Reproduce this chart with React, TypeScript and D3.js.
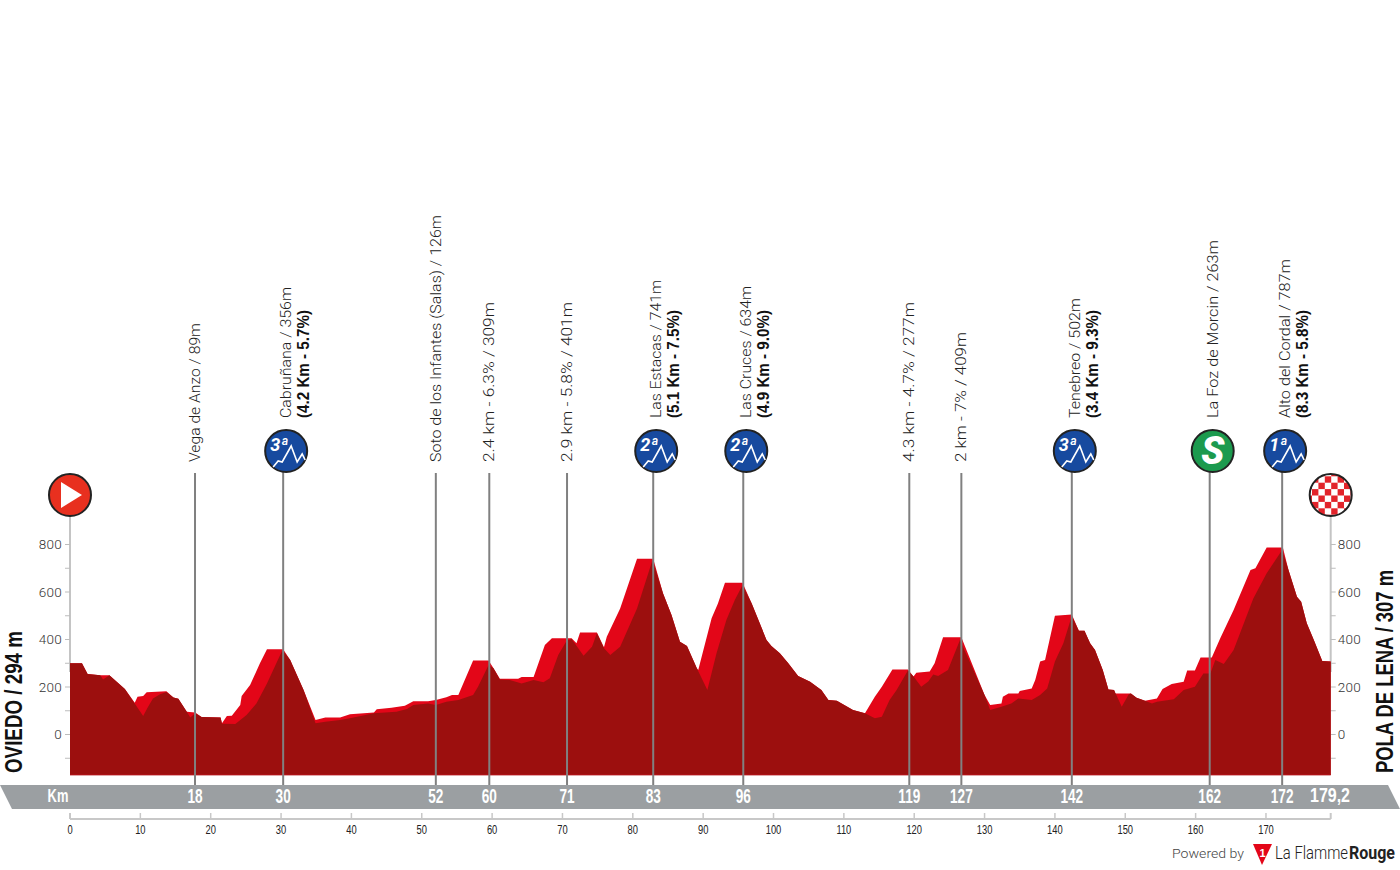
import React from "react";
import * as d3 from "d3";

const topKm = [0,1.7,2.5,4.3,5.6,7.8,9.2,9.6,10.4,10.9,13.7,14.7,15.4,16.6,17.8,18.7,21.4,21.6,22.3,23,24.2,24.4,25.6,27,28,30.3,31.3,33.2,34.9,36.3,38.4,39.8,43.2,43.6,45.7,47.6,48.8,50.9,52,53.5,54.3,55.2,57.3,59.5,60.2,61.1,63.7,64.2,65.9,67.5,68.5,71.3,72,72.5,74.9,75.9,76.3,78.2,80.6,82.9,84.3,85.5,86.7,87.7,89.1,89.3,91.2,92.1,93.1,95.6,96.9,99,99.7,100.9,102.1,103.5,105.2,106.8,107.8,109,111.3,113,114.4,115.4,116.9,119.1,119.9,120.3,122.2,122.9,124.1,126.7,130,130.8,132.4,132.6,133.4,134.8,135,136.7,137.2,137.9,138.6,140,142.4,143.4,144.2,145,145.7,146.8,147.6,148.4,148.6,150.8,151.6,152.8,154.5,155.3,156.6,158.3,158.8,159.9,160.7,162.3,163.5,165.4,167.8,168.5,170.1,172.4,173.2,174.4,175,175.8,176.8,178,179.2];
const topElev = [300,300,255,250,249,192,134,159,162,178,182,156,151,96,93,74,72,47,78,79,124,162,208,300,359,359,314,187,61,72,72,85,93,106,113,121,140,140,145,157,166,166,312,312,279,235,235,242,242,377,405,405,384,430,430,367,412,531,740,740,594,503,391,373,279,272,489,552,639,639,552,398,373,342,300,246,222,187,145,142,103,89,159,201,274,274,244,260,265,300,409,409,166,124,131,159,173,173,183,194,229,307,314,500,505,437,437,384,356,272,190,187,173,173,155,142,152,192,213,222,269,269,324,324,405,524,693,700,787,787,693,580,559,468,398,309,307];
const darkKm = [0,1.7,2.5,4.3,4.7,5.6,7.8,10.4,11.1,11.8,12.8,13.7,14.7,15.4,16.6,17.1,17.8,18.7,21.4,21.6,23.5,25.1,26.5,28,30.2,31.3,33.2,34.9,36.3,38.4,39.8,43.2,46.4,47.9,48.8,50.9,52,53.5,55.2,57.3,58,59.5,60.2,61.1,62.5,64.2,65.9,67.3,68.2,69.4,70.6,71.3,73,74.2,74.9,75.9,76.8,78.2,80.6,82.8,84.3,85.5,86.7,87.7,89.1,90.6,91.9,93.3,94.5,95.6,96.9,99,99.7,100.9,102.1,103.5,105.2,106.8,107.8,109,111.3,113,114.4,115.4,116.5,117.5,119.1,119.9,121,122,122.7,123.4,124.8,126.5,130,130.8,132.4,133.8,134.8,136.7,137.9,138.9,140,141.2,142.4,143.4,144.2,145,145.7,146.8,147.6,148.4,149.5,150.5,150.8,151.6,152.8,153.8,154.5,156.9,158.3,159.9,161.1,162.1,162.8,164,165.4,168.2,170.1,172.3,173.2,174.4,175,175.8,176.8,178,179.2];
const darkElev = [300,300,255,250,232,249,192,78,117,152,170,179,156,151,96,72,89,74,72,45,44,82,131,215,356,314,187,47,54,61,68,89,96,107,124,131,124,138,145,166,201,293,279,232,230,215,229,220,237,335,395,402,332,370,426,363,335,370,531,735,594,503,391,373,279,187,342,482,566,630,552,398,373,342,300,246,222,187,145,142,103,89,68,75,145,187,269,244,201,223,253,246,272,398,166,103,117,131,152,145,166,194,307,384,499,437,437,384,356,272,190,187,117,170,173,155,142,131,138,148,187,201,257,257,314,297,356,573,679,777,693,580,559,468,398,309,307];
const elevTicks = [800,600,400,200,0];
const elevMinorTicks = [700,500,300,100,-100];
const kmTicks = [0,10,20,30,40,50,60,70,80,90,100,110,120,130,140,150,160,170];

const passKm = [17.77,30.3,52,59.6,70.65,82.9,95.7,119.3,126.7,142.4,162,172.3];
const passKmLabels = ["18","30","52","60","71","83","96","119","127","142","162","172"];
const passNames = ["Vega de Anzo / 89m","Cabruñana / 356m","Soto de los Infantes (Salas) / 126m","2.4 km - 6.3% / 309m","2.9 km - 5.8% / 401m","Las Estacas / 741m","Las Cruces / 634m","4.3 km - 4.7% / 277m","2 km - 7% / 409m","Tenebreo / 502m","La Foz de Morcin / 263m","Alto del Cordal / 787m"];
const passDetails = ["","(4.2 Km - 5.7%)","","","","(5.1 Km - 7.5%)","(4.9 Km - 9.0%)","","","(3.4 Km - 9.3%)","",  "(8.3 Km - 5.8%)"];
const passBadges = ["","3ª","","","","2ª","2ª","","","3ª","S","1ª"];
const startName = "OVIEDO / 294 m";
const finishName = "POLA DE LENA / 307 m";
const totalLabel = "179,2";

const nameLengths = [139,131,247,160,160,138,132,160,130,120,178,159];

const light = "Roboto, 'Noto Sans', sans-serif";
const sans = "'Liberation Sans', sans-serif";

const x = d3.scaleLinear().domain([0, 179.2]).range([70, 1330.7]);
const y = d3.scaleLinear().domain([0, 800]).range([734.5, 544.5]);
const BASE = -170;

const mkArea = (kms: number[], elevs: number[]) =>
  d3.area<number>().x((_, i) => x(kms[i])).y0(y(BASE)).y1((_, i) => y(elevs[i])).curve(d3.curveLinear)(kms)!;

function Narrow({ x: tx, y: ty, size, fill, weight = 700, sx = 0.68, children, anchor = "middle" }: any) {
  return (
    <text transform={`translate(${tx},${ty}) scale(${sx},1)`} textAnchor={anchor} fontFamily={sans} fontWeight={weight} fontSize={size} fill={fill}>{children}</text>
  );
}

function Badge({ cx, cy, label }: { cx: number; cy: number; label: string }) {
  const sprint = label === "S";
  return (
    <g transform={`translate(${cx},${cy})`}>
      <circle r={21} fill={sprint ? "#1c9a4e" : "#174a9f"} stroke="#222" strokeWidth={2} />
      {sprint ? (
        <text x={0} y={13} textAnchor="middle" fontFamily={light} fontWeight={900} fontStyle="italic" fontSize={38} fill="#fff">S</text>
      ) : (
        <>
          <text x={-16} y={0} fontFamily={light} fontWeight={700} fontStyle="italic" fontSize={18} fill="#fff">{label}</text>
          <polyline points="-13,16 -8,10 -4,11 5,-5 11,11 16,3 19,9" fill="none" stroke="#fff" strokeWidth={1.6} />
        </>
      )}
    </g>
  );
}

function Checker({ cx, cy }: { cx: number; cy: number }) {
  const cells = d3.range(-4, 4).flatMap((r) => d3.range(-4, 4).filter((c) => (r + c + 8) % 2 === 0).map((c) => [r, c]));
  return (
    <g transform={`translate(${cx},${cy})`}>
      <clipPath id="chk"><circle r={21} /></clipPath>
      <circle r={21} fill="#fff" />
      <g clipPath="url(#chk)">
        {cells.map(([r, c], i) => (
          <rect key={i} x={c * 6.4 + 0.5} y={r * 6.4 + 0.5} width={6.4} height={6.4} fill="#e2232a" />
        ))}
      </g>
      <circle r={21} fill="none" stroke="#222" strokeWidth={2} />
    </g>
  );
}

export default function App() {
  return (
    <svg width={1400} height={870} style={{ position: "absolute", left: 0, top: 0, background: "#fff" }}>
      {/* y axes */}
      {[x(0), x(179.2)].map((ax, k) => (
        <g key={k}>
          <line x1={ax} x2={ax} y1={516} y2={672} stroke="#c4c4c4" strokeWidth={2} />
          {[...elevTicks, ...elevMinorTicks].map((t) => (
            <line key={t} x1={ax} x2={ax + (k ? 5 : -5)} y1={y(t)} y2={y(t)} stroke="#bdbdbd" strokeWidth={1} />
          ))}
          {elevTicks.map((t) => (
            <text key={t} x={k ? ax + 7 : ax - 8} y={y(t) + 4.5} textAnchor={k ? "start" : "end"} fontFamily={light} fontWeight={300} fontSize={13.5} letterSpacing={0.3} fill="#333">{t}</text>
          ))}
        </g>
      ))}

      <path d={mkArea(topKm, topElev)} fill="#e30618" />
      <path d={mkArea(darkKm, darkElev)} fill="#9c0f0e" />
      <line x1={x(0)} x2={x(179.2)} y1={y(BASE)} y2={y(BASE)} stroke="#b5141a" strokeWidth={1} />

      {/* km band */}
      <polygon points="0,785 1388,785 1400,809 12,809" fill="#9b9fa2" />
      <Narrow x={58} y={802} size={19} fill="#fff">Km</Narrow>

      {/* passes */}
      {passKm.map((km, i) => {
        const px = x(km);
        const hasBadge = passBadges[i] !== "";
        const top = hasBadge ? 460 : 473;
        const anchorY = hasBadge ? 418 : 462;
        const nameX = px + (hasBadge ? 8 : 5);
        return (
          <g key={i}>
            <line x1={px} x2={px} y1={top} y2={785} stroke="#808080" strokeWidth={2} />
            <Narrow x={px} y={803} size={20} fill="#fff">{passKmLabels[i]}</Narrow>
            <text transform={`translate(${nameX},${anchorY}) rotate(-90)`} fontFamily={light} fontWeight={300} fontSize={15} fill="#222"
              textLength={nameLengths[i]} lengthAdjust="spacingAndGlyphs">{passNames[i]}</text>
            {passDetails[i] && (
              <text transform={`translate(${px + 26},${anchorY}) rotate(-90)`} fontFamily={sans} fontWeight={700} fontSize={16} fill="#111"
                textLength={108} lengthAdjust="spacingAndGlyphs">{passDetails[i]}</text>
            )}
            {hasBadge && <Badge cx={px + 3} cy={451} label={passBadges[i]} />}
          </g>
        );
      })}
      <Narrow x={1330} y={802} size={20} sx={0.8} fill="#fff">{totalLabel}</Narrow>

      {/* km axis */}
      <line x1={x(0)} x2={x(179.2)} y1={819} y2={819} stroke="#c8c8c8" strokeWidth={2} />
      {kmTicks.map((t) => (
        <g key={t}>
          <line x1={x(t)} x2={x(t)} y1={813} y2={819} stroke="#c8c8c8" strokeWidth={t === 0 ? 2 : 1.5} />
          <Narrow x={x(t)} y={834} size={13} weight={400} sx={0.72} fill="#222">{t}</Narrow>
        </g>
      ))}
      <line x1={x(179.2)} x2={x(179.2)} y1={813} y2={819} stroke="#c8c8c8" strokeWidth={2} />

      {/* start / finish */}
      <g transform={`translate(${x(0)},495)`}>
        <circle r={21} fill="#e8301f" stroke="#222" strokeWidth={2} />
        <polygon points="-9,-13 12,0 -9,13" fill="#fff" />
      </g>
      <Checker cx={x(179.2)} cy={495} />

      <text transform="translate(22,773) rotate(-90)" fontFamily={sans} fontWeight={700} fontSize={23} fill="#111"
        textLength={142} lengthAdjust="spacingAndGlyphs">{startName}</text>
      <text transform="translate(1393,773) rotate(-90)" fontFamily={sans} fontWeight={700} fontSize={23} fill="#111"
        textLength={203} lengthAdjust="spacingAndGlyphs">{finishName}</text>

      {/* logo */}
      <text x={1172} y={858} fontFamily={light} fontWeight={300} fontSize={13.5} fill="#444" textLength={72} lengthAdjust="spacingAndGlyphs">Powered by</text>
      <polygon points="1253,844 1272,844 1262,865" fill="#e30618" />
      <text x={1262.5} y={857} textAnchor="middle" fontFamily={sans} fontWeight={700} fontSize={11} fill="#fff">1</text>
      <text x={1275} y={859} fontFamily={light} fontWeight={300} fontSize={18} fill="#222" textLength={73} lengthAdjust="spacingAndGlyphs">La Flamme</text>
      <text x={1349} y={859} fontFamily={light} fontWeight={700} fontSize={18} fill="#222" textLength={46} lengthAdjust="spacingAndGlyphs">Rouge</text>
    </svg>
  );
}
